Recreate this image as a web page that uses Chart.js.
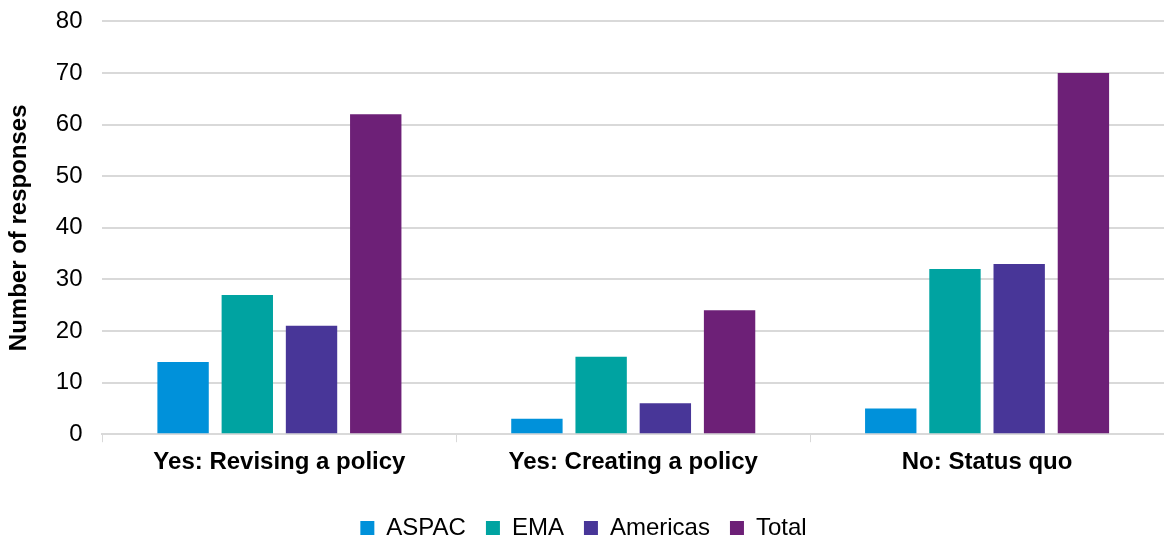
<!DOCTYPE html>
<html>
<head>
<meta charset="utf-8">
<script src="https://cdn.jsdelivr.net/npm/chart.js@4"></script>
<style>
  html, body { margin: 0; padding: 0; background: #fff; overflow: hidden; }
  #wrap { width: 1164px; height: 548px; margin-top: -13px; }
</style>
</head>
<body>
<div id="wrap"><canvas id="chart"></canvas></div>
<script>
const categories = ['Yes: Revising a policy', 'Yes: Creating a policy', 'No: Status quo'];
const aspac = [14, 3, 5];
const ema = [27, 15, 32];
const americas = [21, 6, 33];
const total = [62, 24, 70];

const font = 'Arial, "Liberation Sans", sans-serif';
Chart.defaults.font.family = font;
Chart.defaults.color = '#000';

new Chart(document.getElementById('chart'), {
  type: 'bar',
  data: {
    labels: categories,
    datasets: [
      { label: 'ASPAC', data: aspac, backgroundColor: '#0091DA' },
      { label: 'EMA', data: ema, backgroundColor: '#00A3A1' },
      { label: 'Americas', data: americas, backgroundColor: '#483698' },
      { label: 'Total', data: total, backgroundColor: '#6D2077' }
    ]
  },
  options: {
    responsive: true,
    maintainAspectRatio: false,
    animation: false,
    datasets: { bar: { categoryPercentage: 0.726, barPercentage: 0.8 } },
    layout: { padding: { top: 0, right: 0, left: 3, bottom: -15 } },
    plugins: {
      tooltip: { enabled: false },
      legend: {
        position: 'bottom',
        labels: { font: { size: 24 }, boxWidth: 14, boxHeight: 14, padding: 20 }
      }
    },
    scales: {
      x: {
        grid: { drawOnChartArea: false, drawTicks: true, tickLength: 8, color: '#d9d9d9', offset: true },
        border: { color: '#d9d9d9', width: 2 },
        ticks: { font: { size: 24, weight: 'bold' }, padding: 6 },
        afterFit: (scale) => { scale.height += 13; }
      },
      y: {
        min: 0, max: 80,
        ticks: { stepSize: 10, font: { size: 24 }, padding: 20 },
        grid: { color: '#d9d9d9', lineWidth: 2, drawTicks: false },
        border: { display: false },
        title: { display: true, text: 'Number of responses', font: { size: 24, weight: 'bold' }, padding: 2 }
      }
    }
  }
});
</script>
</body>
</html>
